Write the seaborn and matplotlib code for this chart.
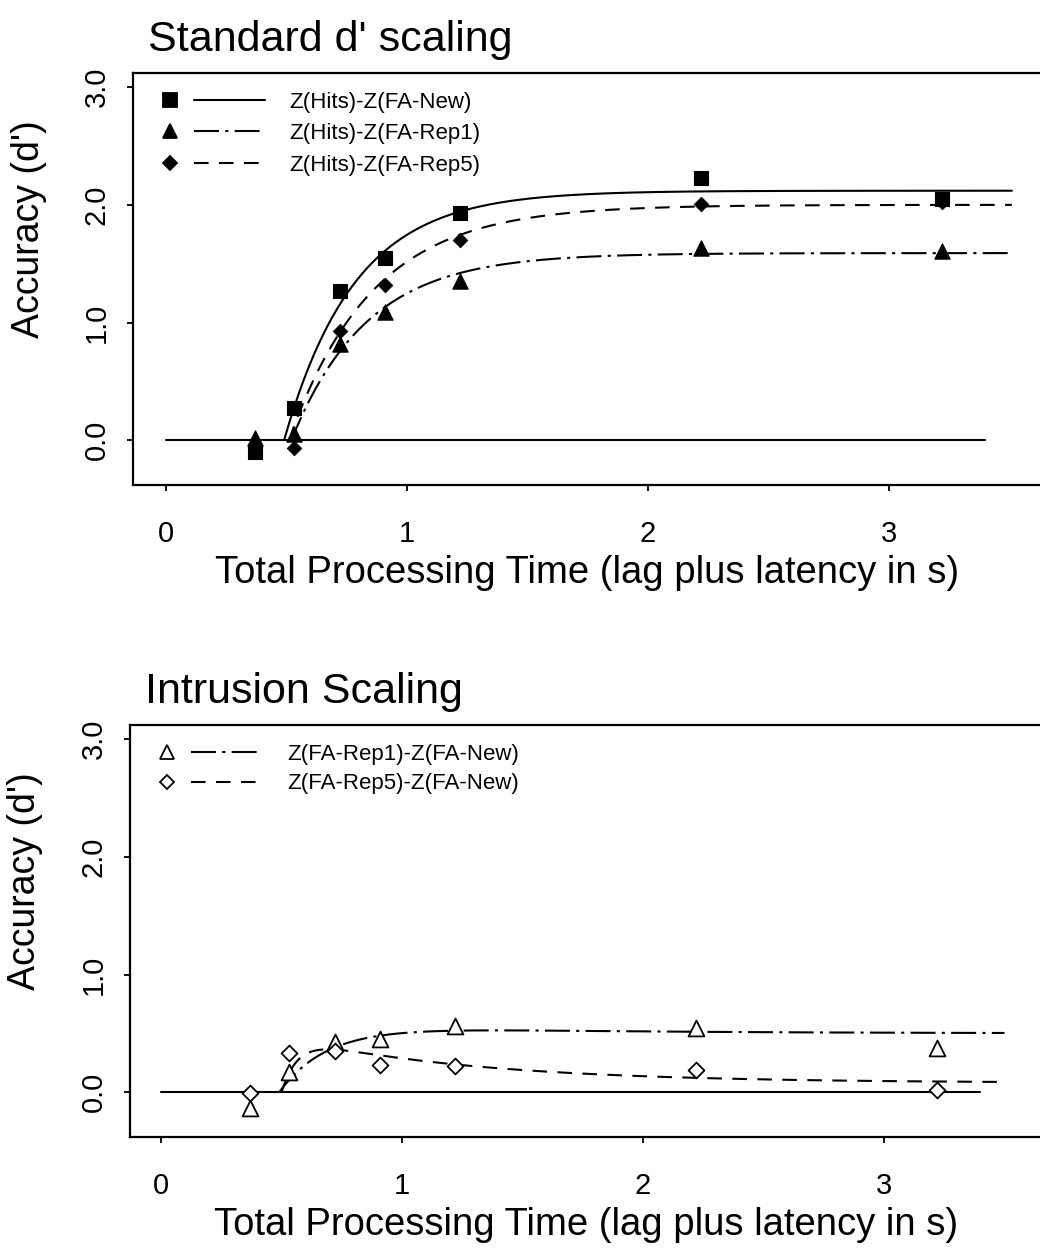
import numpy as np
import pandas as pd
import seaborn as sns
import matplotlib.pyplot as plt
from matplotlib.lines import Line2D
from matplotlib.legend_handler import HandlerBase

sns.set_style("ticks")
plt.rcParams['font.family'] = ['Liberation Sans', 'DejaVu Sans']
plt.rcParams['text.color'] = 'black'
plt.rcParams['axes.labelcolor'] = 'black'
plt.rcParams['xtick.color'] = 'black'
plt.rcParams['ytick.color'] = 'black'

# observed points (total processing time in s)
time_s = [0.37, 0.53, 0.72, 0.91, 1.22, 2.22, 3.22]
hits_new = [-0.10, 0.27, 1.27, 1.55, 1.93, 2.23, 2.05]
hits_rep1 = [0.02, 0.05, 0.82, 1.09, 1.35, 1.63, 1.61]
hits_rep5 = [-0.06, -0.07, 0.93, 1.32, 1.70, 2.01, 2.02]
rep1_new = [-0.13, 0.17, 0.43, 0.45, 0.56, 0.55, 0.38]
rep5_new = [-0.01, 0.33, 0.35, 0.23, 0.22, 0.19, 0.02]

# fitted SAT curves: lambda, beta, delta (top panel)
top_lambda = [2.12, 1.59, 2.00]
top_beta = [3.4, 3.2, 2.9]
top_delta = [0.49, 0.52, 0.51]
# bottom panel: two-component fits A, b1, B, b2, delta
bot_A = [0.58, 0.48]
bot_b1 = [5.0, 15.0]
bot_B = [0.08, 0.40]
bot_b2 = [1.0, 1.3]
bot_delta = [0.49, 0.50]
curve_end = [3.51, 3.50]
zero_line_x = [0.0, 3.4]

top_labels = ['Z(Hits)-Z(FA-New)', 'Z(Hits)-Z(FA-Rep1)', 'Z(Hits)-Z(FA-Rep5)']
bot_labels = ['Z(FA-Rep1)-Z(FA-New)', 'Z(FA-Rep5)-Z(FA-New)']

solid = (None, None)
dashdot = (12, 3, 1.5, 3)
dashed = (7, 5)


class MarkerLineHandler(HandlerBase):
    def create_artists(self, legend, orig_handle, xdescent, ydescent,
                       width, height, fontsize, trans):
        mk, ln = orig_handle
        yc = height / 2 - ydescent
        a = Line2D([-xdescent + 0.07 * width], [yc])
        a.update_from(mk)
        a.set_transform(trans)
        b = Line2D([-xdescent + 0.30 * width, -xdescent + width], [yc, yc])
        b.update_from(ln)
        b.set_transform(trans)
        return [b, a]


def proxy(marker, ms, mfc, dashes):
    mk = Line2D([], [], ls='none', marker=marker, ms=ms, mfc=mfc, mec='black', mew=1.3)
    ln = Line2D([], [], color='black', lw=1.5)
    if dashes[0] is not None:
        ln.set_dashes(dashes)
    return (mk, ln)


def style_axes(ax, title):
    ax.set_ylim(-0.38, 3.12)
    ax.set_yticks([0, 1, 2, 3])
    ax.set_yticklabels(['0.0', '1.0', '2.0', '3.0'], rotation=90, va='center')
    ax.set_xticks([0, 1, 2, 3])
    ax.set_xticklabels(['0', '1', '2', '3'])
    ax.tick_params(axis='y', labelsize=21, length=4, width=1.3, pad=12)
    ax.tick_params(axis='x', labelsize=21, length=4, width=1.3, pad=21)
    for s in ax.spines.values():
        s.set_linewidth(1.6)
        s.set_color('black')
    ax.spines['right'].set_visible(False)
    ax.set_xlabel('Total Processing Time (lag plus latency in s)', fontsize=27.5, labelpad=5)
    ax.set_ylabel("Accuracy (d')", fontsize=27)
    ax.yaxis.set_label_coords(-0.095, 0.62)
    ax.set_title(title, loc='left', fontsize=31, pad=16, x=0.016)


fig = plt.figure(figsize=(10.4, 12.48), dpi=100)
ax1 = fig.add_axes([0.1279, 0.6114, 0.874, 0.3301])
ax2 = fig.add_axes([0.1250, 0.0889, 0.877, 0.3302])

# ---- top panel
ax1.set_xlim(-0.137, 3.635)
sns.lineplot(x=zero_line_x, y=[0, 0], color='black', lw=1.5, ax=ax1)
dash_list = [solid, dashdot, dashed]
for i in range(3):
    t = np.linspace(top_delta[i], curve_end[0], 300)
    d = top_lambda[i] * (1 - np.exp(-top_beta[i] * (t - top_delta[i])))
    sns.lineplot(x=t, y=d, color='black', lw=1.5, ax=ax1)
    if dash_list[i][0] is not None:
        ax1.lines[-1].set_dashes(dash_list[i])

sns.scatterplot(x=time_s, y=hits_new, marker='s', s=100, color='black', edgecolor='black', ax=ax1, zorder=3)
sns.scatterplot(x=time_s, y=hits_rep1, marker='^', s=120, color='black', edgecolor='black', ax=ax1, zorder=3)
sns.scatterplot(x=time_s, y=hits_rep5, marker='D', s=55, color='black', edgecolor='black', ax=ax1, zorder=3)

h1 = [proxy('s', 10, 'black', solid), proxy('^', 10, 'black', dashdot), proxy('D', 7, 'black', dashed)]
ax1.legend(h1, top_labels, handler_map={tuple: MarkerLineHandler()}, loc='upper left',
           bbox_to_anchor=(0.033, 0.955), frameon=False, fontsize=16, borderpad=0,
           borderaxespad=0, handlelength=4.6, handletextpad=1.1, labelspacing=0.48)
style_axes(ax1, "Standard d' scaling")

# ---- bottom panel
ax2.set_xlim(-0.129, 3.656)
sns.lineplot(x=zero_line_x, y=[0, 0], color='black', lw=1.5, ax=ax2)
dash_list2 = [dashdot, dashed]
for i in range(2):
    t = np.linspace(bot_delta[i], curve_end[1], 300)
    d = bot_A[i] * (1 - np.exp(-bot_b1[i] * (t - bot_delta[i]))) - bot_B[i] * (1 - np.exp(-bot_b2[i] * (t - bot_delta[i])))
    sns.lineplot(x=t, y=d, color='black', lw=1.5, ax=ax2)
    ax2.lines[-1].set_dashes(dash_list2[i])

sns.scatterplot(x=time_s, y=rep1_new, marker='^', s=130, facecolor='white', edgecolor='black', linewidth=1.3, ax=ax2, zorder=3)
sns.scatterplot(x=time_s, y=rep5_new, marker='D', s=65, facecolor='white', edgecolor='black', linewidth=1.3, ax=ax2, zorder=3)

h2 = [proxy('^', 10, 'white', dashdot), proxy('D', 7.5, 'white', dashed)]
ax2.legend(h2, bot_labels, handler_map={tuple: MarkerLineHandler()}, loc='upper left',
           bbox_to_anchor=(0.033, 0.955), frameon=False, fontsize=16, borderpad=0,
           borderaxespad=0, handlelength=4.6, handletextpad=1.1, labelspacing=0.4)
style_axes(ax2, "Intrusion Scaling")

fig.savefig('out.png', dpi=100)
